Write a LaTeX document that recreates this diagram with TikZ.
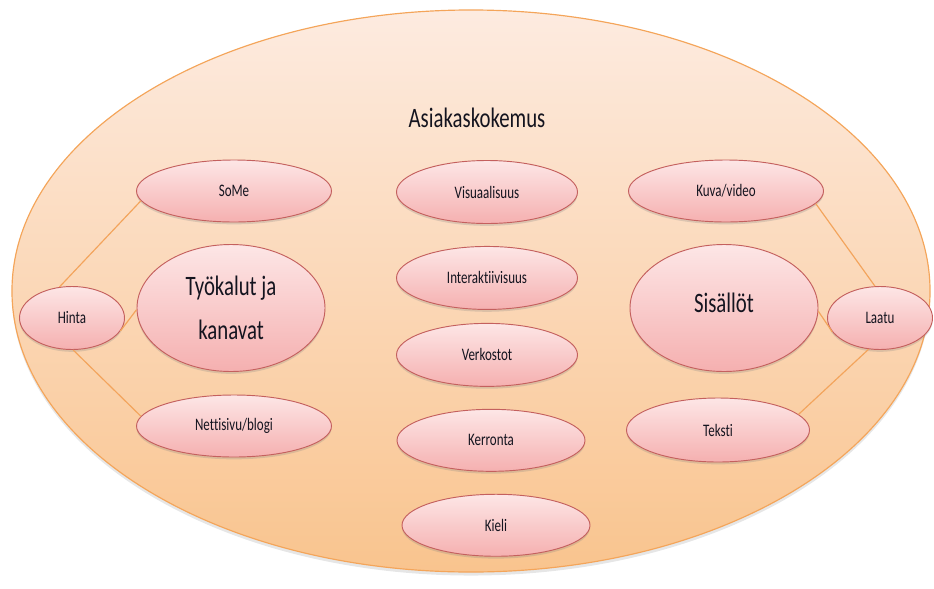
\documentclass[tikz,border=0pt]{standalone}
\usepackage{fontspec}
\setmainfont{Carlito}[FakeStretch=0.74, Ligatures=NoCommon]
\usepackage{xcolor}
\usepackage{tikz}
\usetikzlibrary{shapes.geometric, positioning, shadows}

\definecolor{outerline}{HTML}{F4A55A}
\definecolor{outertop}{HTML}{FDEBE0}
\definecolor{outerbot}{HTML}{F9C48E}
\definecolor{bubbleline}{HTML}{C4605E}
\definecolor{bubbletop}{HTML}{FDE6E6}
\definecolor{bubblebot}{HTML}{F5B0B0}
\definecolor{linkline}{HTML}{F3A45C}
\definecolor{inktext}{HTML}{14141F}

\begin{document}
\begin{tikzpicture}[
x=0.03cm, y=-0.03cm,
bubble/.style={ellipse, draw=bubbleline, line width=0.8pt, top color=bubbletop, bottom color=bubblebot, inner sep=0pt, minimum width=58.5mm, minimum height=18.6mm, font=\fontsize{15}{18}\selectfont, text=inktext, drop shadow={shadow xshift=0pt, shadow yshift=-2pt, opacity=0.25}},
midbubble/.style={bubble, minimum width=54.3mm, minimum height=18.9mm},
smallbubble/.style={bubble, minimum width=31.5mm, minimum height=18.9mm},
bigbubble/.style={bubble, minimum width=56.4mm, minimum height=38.1mm, font=\fontsize{24}{29}\selectfont, align=center},
link/.style={draw=linkline, line width=1pt}
]
\useasboundingbox (0,0) rectangle (934,588);

\node[ellipse, draw=outerline, line width=1pt, top color=outertop, bottom color=outerbot, minimum width=275.4mm, minimum height=168.6mm, drop shadow={shadow xshift=0pt, shadow yshift=-3pt, opacity=0.2}] (kokemus) at (471,291) {};
\node[font=\fontsize{24}{29}\selectfont, text=inktext] (title) at (477,118) {Asiakaskokemus};

\node[bubble] (some) at (234,191) {SoMe};
\node[bigbubble] (tyokalut) at (231,308) {Työkalut ja\\[8pt]kanavat};
\node[bubble] (nettisivu) at (234,426) {Nettisivu/blogi};
\node[smallbubble] (hinta) at (72,318) {Hinta};

\node[midbubble] (visuaalisuus) at (487,192) {Visuaalisuus};
\node[midbubble, below=6.6mm of visuaalisuus] (interaktiivisuus) {Interaktiivisuus};
\node[midbubble, below=3.9mm of interaktiivisuus] (verkostot) {Verkostot};
\node[bubble, minimum width=56.4mm, below=6.6mm of verkostot, xshift=1.2mm] (kerronta) {Kerronta};
\node[bubble, minimum width=56.4mm, below=6.6mm of kerronta, xshift=1.5mm] (kieli) {Kieli};

\node[bubble] (kuva) at (726,191) {Kuva/video};
\node[bigbubble] (sisallot) at (724,308) {\raisebox{3mm}{Sisällöt}};
\node[bubble, minimum width=54.9mm, minimum height=19.2mm] (teksti) at (718,430) {Teksti};
\node[smallbubble] (laatu) at (880,318) {Laatu};

\draw[link] (hinta.112) -- (some.186);
\draw[link] (hinta.345) -- (tyokalut.181);
\draw[link] (hinta.272) -- (nettisivu.174);
\draw[link] (laatu.99) -- (kuva.352);
\draw[link] (laatu.196) -- (sisallot.358);
\draw[link] (laatu.250) -- (teksti.11);

\end{tikzpicture}
\end{document}
